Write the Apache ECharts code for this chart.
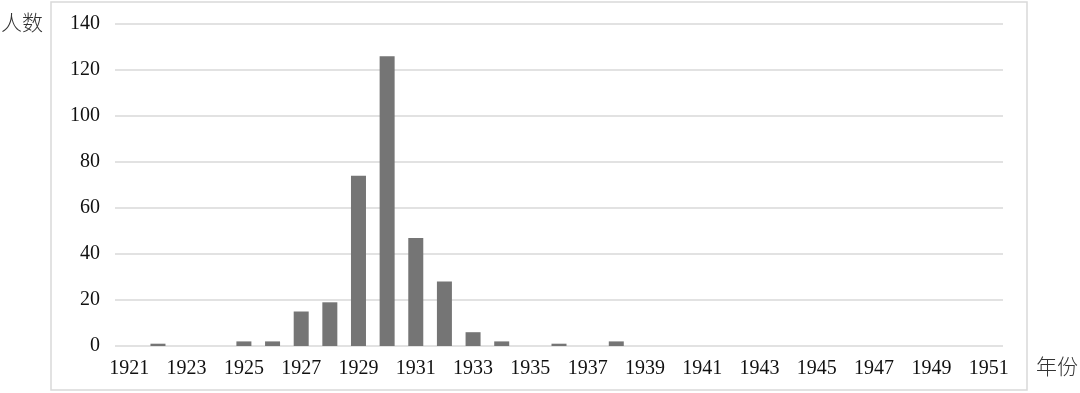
<!DOCTYPE html>
<html>
<head>
<meta charset="utf-8">
<script src="https://cdn.jsdelivr.net/npm/echarts@6/dist/echarts.min.js"></script>
<style>
html,body{margin:0;padding:0;background:#fff;}
#c{width:1080px;height:393px;}
</style>
</head>
<body>
<div id="c"></div>
<script>
const years = [];
for (let y = 1921; y <= 1951; y++) years.push(String(y));
const counts = [0,1,0,0,2,2,15,19,74,126,47,28,6,2,0,1,0,2,0,0,0,0,0,0,0,0,0,0,0,0,0];
const yTicks = { min: 0, max: 140, interval: 20 };
const yName = '人数';
const xName = '年份';

const serif = '"Liberation Serif", "DejaVu Serif", serif';
const cjk = '"Noto Sans CJK SC", sans-serif';

const chart = echarts.init(document.getElementById('c'), null, {renderer: 'canvas'});
chart.setOption({
  animation: false,
  backgroundColor: '#fff',
  grid: { left: 115, right: 77, top: 24, bottom: 47, containLabel: false },
  xAxis: {
    type: 'category',
    data: years,
    axisLine: { show: false },
    axisTick: { show: false },
    axisLabel: { interval: 1, margin: 13, color: '#111', fontFamily: serif, fontSize: 20 }
  },
  yAxis: {
    type: 'value',
    min: yTicks.min, max: yTicks.max, interval: yTicks.interval,
    axisLine: { show: false },
    axisTick: { show: false },
    axisLabel: { margin: 15, color: '#111', fontFamily: serif, fontSize: 20 },
    splitLine: { lineStyle: { color: '#d9d9d9', width: 1.5 } }
  },
  series: [{
    type: 'bar',
    data: counts,
    barWidth: 15,
    itemStyle: { color: '#757575' }
  }],
  graphic: [
    { type: 'rect', shape: { x: 51, y: 2, width: 976, height: 388 },
      style: { fill: 'none', stroke: '#d9d9d9', lineWidth: 1.5 }, silent: true },
    { type: 'text', left: 1, top: 12,
      style: { text: yName, font: '300 21px ' + cjk, fill: '#333' } },
    { type: 'text', left: 1036, top: 356,
      style: { text: xName, font: '300 21px ' + cjk, fill: '#333' } }
  ]
});
</script>
</body>
</html>
